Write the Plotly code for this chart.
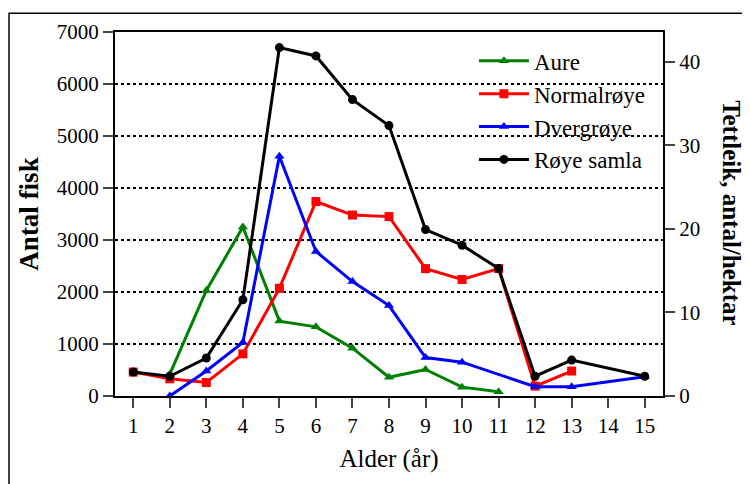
import plotly.graph_objects as go

ages = list(range(1, 16))
aure =        [None, 420, 2030, 3250, 1440, 1330, 920, 360, 510, 170, 80, None, None, None, None]
normalroye =  [460, 330, 260, 810, 2070, 3740, 3480, 3450, 2450, 2240, 2450, 190, 480, None, None]
dvergroye =   [None, 0, 480, 1030, 4610, 2780, 2200, 1740, 740, 650, None, 180, 180, None, 370]
roye_samla =  [460, 380, 730, 1850, 6700, 6540, 5700, 5200, 3200, 2900, 2450, 380, 690, None, 380]

left_ticks = [0, 1000, 2000, 3000, 4000, 5000, 6000, 7000]
right_ticks = [0, 10, 20, 30, 40]

FONT = "Liberation Serif, Times New Roman, serif"

fig = go.Figure()
series = [
    ("Aure", aure, "#008000", "triangle-up"),
    ("Normalrøye", normalroye, "#ff0000", "square"),
    ("Dvergrøye", dvergroye, "#0000ff", "triangle-up"),
    ("Røye samla", roye_samla, "#000000", "circle"),
]
for name, vals, col, sym in series:
    fig.add_trace(go.Scatter(
        x=ages, y=vals, name=name, mode="lines+markers", connectgaps=True,
        line=dict(color=col, width=3),
        marker=dict(color=col, symbol=sym, size=9),
    ))
# empty trace to anchor the right axis
fig.add_trace(go.Scatter(x=[None], y=[None], yaxis="y2", showlegend=False, hoverinfo="skip"))

fig.update_layout(
    width=750, height=484,
    margin=dict(l=107, r=95, t=21, b=96),
    paper_bgcolor="white", plot_bgcolor="white",
    font=dict(family=FONT, size=21, color="black"),
    showlegend=True,
    legend=dict(x=0.655, y=0.98, xanchor="left", yanchor="top",
                bgcolor="rgba(0,0,0,0)", font=dict(size=23), itemwidth=50,
                tracegroupgap=0),
    xaxis=dict(
        range=[0.5, 15.5], tickvals=ages, ticks="outside", ticklen=10, tickwidth=1.5,
        showline=True, linecolor="black", linewidth=2, mirror=True,
        showgrid=False, zeroline=False,
        title=dict(text="Alder (år)", font=dict(size=25), standoff=12),
    ),
    yaxis=dict(
        range=[0, 7000], tickvals=left_ticks, ticks="outside", ticklen=10, tickwidth=1.5,
        showline=True, linecolor="black", linewidth=2,
        showgrid=True, gridcolor="black", gridwidth=1.5, griddash="dot",
        zeroline=False,
        title=dict(text="<b>Antal fisk</b>", font=dict(size=27), standoff=10),
    ),
    yaxis2=dict(
        range=[0, 43.59], tickvals=right_ticks, overlaying="y", side="right",
        ticks="outside", ticklen=10, tickwidth=1.5,
        showline=True, linecolor="black", linewidth=2,
        showgrid=False, zeroline=False,
    ),
    annotations=[dict(
        text="<b>Tettleik, antal/hektar</b>", textangle=90,
        xref="paper", yref="paper", x=1.126, y=0.505, xanchor="center", yanchor="middle",
        showarrow=False, font=dict(size=25, family=FONT, color="black"),
    )],
    shapes=[dict(
        type="rect", xref="paper", yref="paper",
        x0=-0.1934, y0=-1.0, x1=2.0, y1=1.0518,
        line=dict(color="black", width=1.5), layer="below",
    )],
)

fig.write_html("out.html")
